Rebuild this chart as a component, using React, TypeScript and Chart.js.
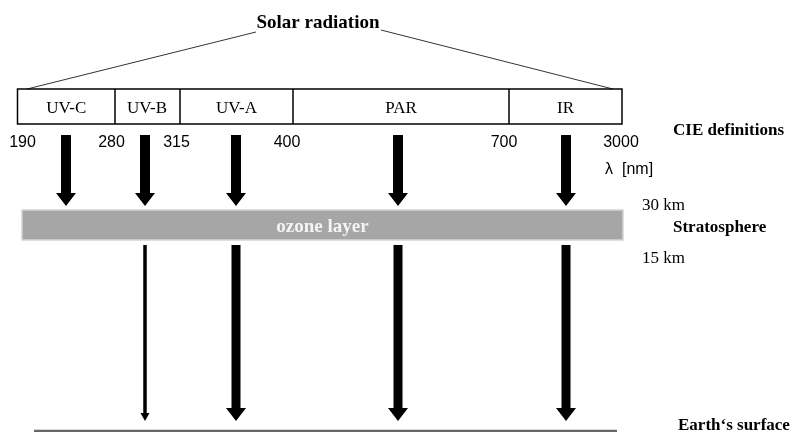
import React, { useEffect, useRef } from 'react';
import { Chart, registerables } from 'chart.js';

Chart.register(...registerables);

// ---- content (data) ----
const TITLE = 'Solar radiation';
const BANDS = ['UV-C', 'UV-B', 'UV-A', 'PAR', 'IR'];
const WAVELENGTHS = ['190', '280', '315', '400', '700', '3000'];
// how much of each band reaches the Earth's surface: 0 = absorbed, 1 = weak, 2 = strong
const SURFACE_REACH = [0, 1, 2, 2, 2];
const CIE_LABEL = 'CIE definitions';
const UNIT_SYMBOL = 'λ';
const UNIT_LABEL = '[nm]';
const OZONE_LABEL = 'ozone layer';
const ALT_TOP = '30 km';
const ALT_BOTTOM = '15 km';
const LAYER_LABEL = 'Stratosphere';
const SURFACE_LABEL = 'Earth‘s surface';

// ---- layout (diagram units, mapped by the chart's scales) ----
const W = 794;
const H = 432;
const EDGE_X = [17.5, 115, 180, 293, 509, 622];
const NUM_X = [22.5, 111.5, 176.5, 287, 504, 621];
const ARROW_X = [66, 145, 236, 398, 566];
const BOX = { top: 89, bottom: 124 };
const OZONE = { left: 22, right: 623, top: 210, bottom: 240 };

const SERIF = '"Liberation Serif", "Times New Roman", serif';
const SANS = '"Liberation Sans", Arial, sans-serif';

const diagramPlugin = {
  id: 'diagram',
  afterDraw(chart: any) {
    const ctx: CanvasRenderingContext2D = chart.ctx;
    const sx = chart.scales.x;
    const sy = chart.scales.y;
    const px = (v: number) => sx.getPixelForValue(v);
    const py = (v: number) => sy.getPixelForValue(v);

    ctx.save();

    const text = (
      s: string, x: number, y: number, font: string,
      align: CanvasTextAlign = 'left', color = '#000'
    ) => {
      ctx.font = font;
      ctx.fillStyle = color;
      ctx.textAlign = align;
      ctx.textBaseline = 'alphabetic';
      ctx.fillText(s, px(x), py(y));
    };

    const arrow = (x: number, y0: number, y1: number, w: number, hw: number, hh: number) => {
      const cx = px(x);
      const t = py(y0);
      const tip = py(y1);
      const hs = tip - hh;
      ctx.beginPath();
      ctx.moveTo(cx - w / 2, t);
      ctx.lineTo(cx + w / 2, t);
      ctx.lineTo(cx + w / 2, hs);
      ctx.lineTo(cx + hw / 2, hs);
      ctx.lineTo(cx, tip);
      ctx.lineTo(cx - hw / 2, hs);
      ctx.lineTo(cx - w / 2, hs);
      ctx.closePath();
      ctx.fillStyle = '#000';
      ctx.fill();
    };

    // title
    text(TITLE, 318, 28, `bold 19px ${SERIF}`, 'center');

    // bracket lines
    ctx.strokeStyle = '#333';
    ctx.lineWidth = 1;
    ctx.beginPath();
    ctx.moveTo(px(27), py(BOX.top));
    ctx.lineTo(px(256), py(32));
    ctx.moveTo(px(381), py(30));
    ctx.lineTo(px(613), py(BOX.top));
    ctx.stroke();

    // band box
    ctx.strokeStyle = '#000';
    ctx.lineWidth = 1.5;
    const bl = px(EDGE_X[0]);
    const br = px(EDGE_X[EDGE_X.length - 1]);
    ctx.strokeRect(bl, py(BOX.top), br - bl, py(BOX.bottom) - py(BOX.top));
    ctx.beginPath();
    for (let i = 1; i < EDGE_X.length - 1; i++) {
      ctx.moveTo(px(EDGE_X[i]), py(BOX.top));
      ctx.lineTo(px(EDGE_X[i]), py(BOX.bottom));
    }
    ctx.stroke();

    // band names
    BANDS.forEach((b, i) => {
      const c = (EDGE_X[i] + EDGE_X[i + 1]) / 2;
      text(b, i === 1 ? 147 : c, 113, `17px ${SERIF}`, 'center');
    });

    // wavelength boundaries
    WAVELENGTHS.forEach((w, i) => {
      text(w, NUM_X[i], 147, `16px ${SANS}`, 'center');
    });

    text(CIE_LABEL, 673, 135, `bold 17px ${SERIF}`);
    text(UNIT_SYMBOL, 605, 174, `16px ${SANS}`);
    text(UNIT_LABEL, 622, 174, `16px ${SANS}`);

    // incoming arrows
    ARROW_X.forEach((x) => arrow(x, 135, 206, 10, 20, 13));

    // ozone layer
    const ol = px(OZONE.left);
    const ot = py(OZONE.top);
    const ow = px(OZONE.right) - ol;
    const oh = py(OZONE.bottom) - ot;
    ctx.fillStyle = '#a6a6a6';
    ctx.fillRect(ol, ot, ow, oh);
    ctx.strokeStyle = '#d4d4d4';
    ctx.lineWidth = 1.5;
    ctx.strokeRect(ol, ot, ow, oh);
    text(OZONE_LABEL, 322.5, 232, `bold 19px ${SERIF}`, 'center', '#f4f4f4');

    text(ALT_TOP, 642, 210, `17px ${SERIF}`);
    text(LAYER_LABEL, 673, 232, `bold 17px ${SERIF}`);
    text(ALT_BOTTOM, 642, 263, `17px ${SERIF}`);

    // transmitted arrows
    SURFACE_REACH.forEach((r, i) => {
      if (r === 2) arrow(ARROW_X[i], 245, 421, 9, 20, 13);
      else if (r === 1) arrow(ARROW_X[i], 245, 421, 3.5, 9, 8);
    });

    // ground
    ctx.strokeStyle = '#666';
    ctx.lineWidth = 2.5;
    ctx.beginPath();
    ctx.moveTo(px(34), py(431));
    ctx.lineTo(px(617), py(431));
    ctx.stroke();

    text(SURFACE_LABEL, 678, 430, `bold 17px ${SERIF}`);

    ctx.restore();
  },
};

export default function App() {
  const ref = useRef<HTMLCanvasElement | null>(null);

  useEffect(() => {
    if (!ref.current) return;
    const chart = new Chart(ref.current, {
      type: 'scatter',
      data: { datasets: [{ data: [], pointRadius: 0 }] },
      options: {
        animation: false,
        responsive: false,
        devicePixelRatio: 1,
        layout: { padding: 0 },
        plugins: { legend: { display: false }, tooltip: { enabled: false } },
        scales: {
          x: { type: 'linear', min: 0, max: W, display: false },
          y: { type: 'linear', min: 0, max: H, reverse: true, display: false },
        },
      },
      plugins: [diagramPlugin],
    });
    return () => chart.destroy();
  }, []);

  return (
    <div style={{ position: 'fixed', left: 0, top: 0, width: W, height: H, background: '#fff' }}>
      <canvas ref={ref} width={W} height={H} style={{ display: 'block' }} />
    </div>
  );
}
